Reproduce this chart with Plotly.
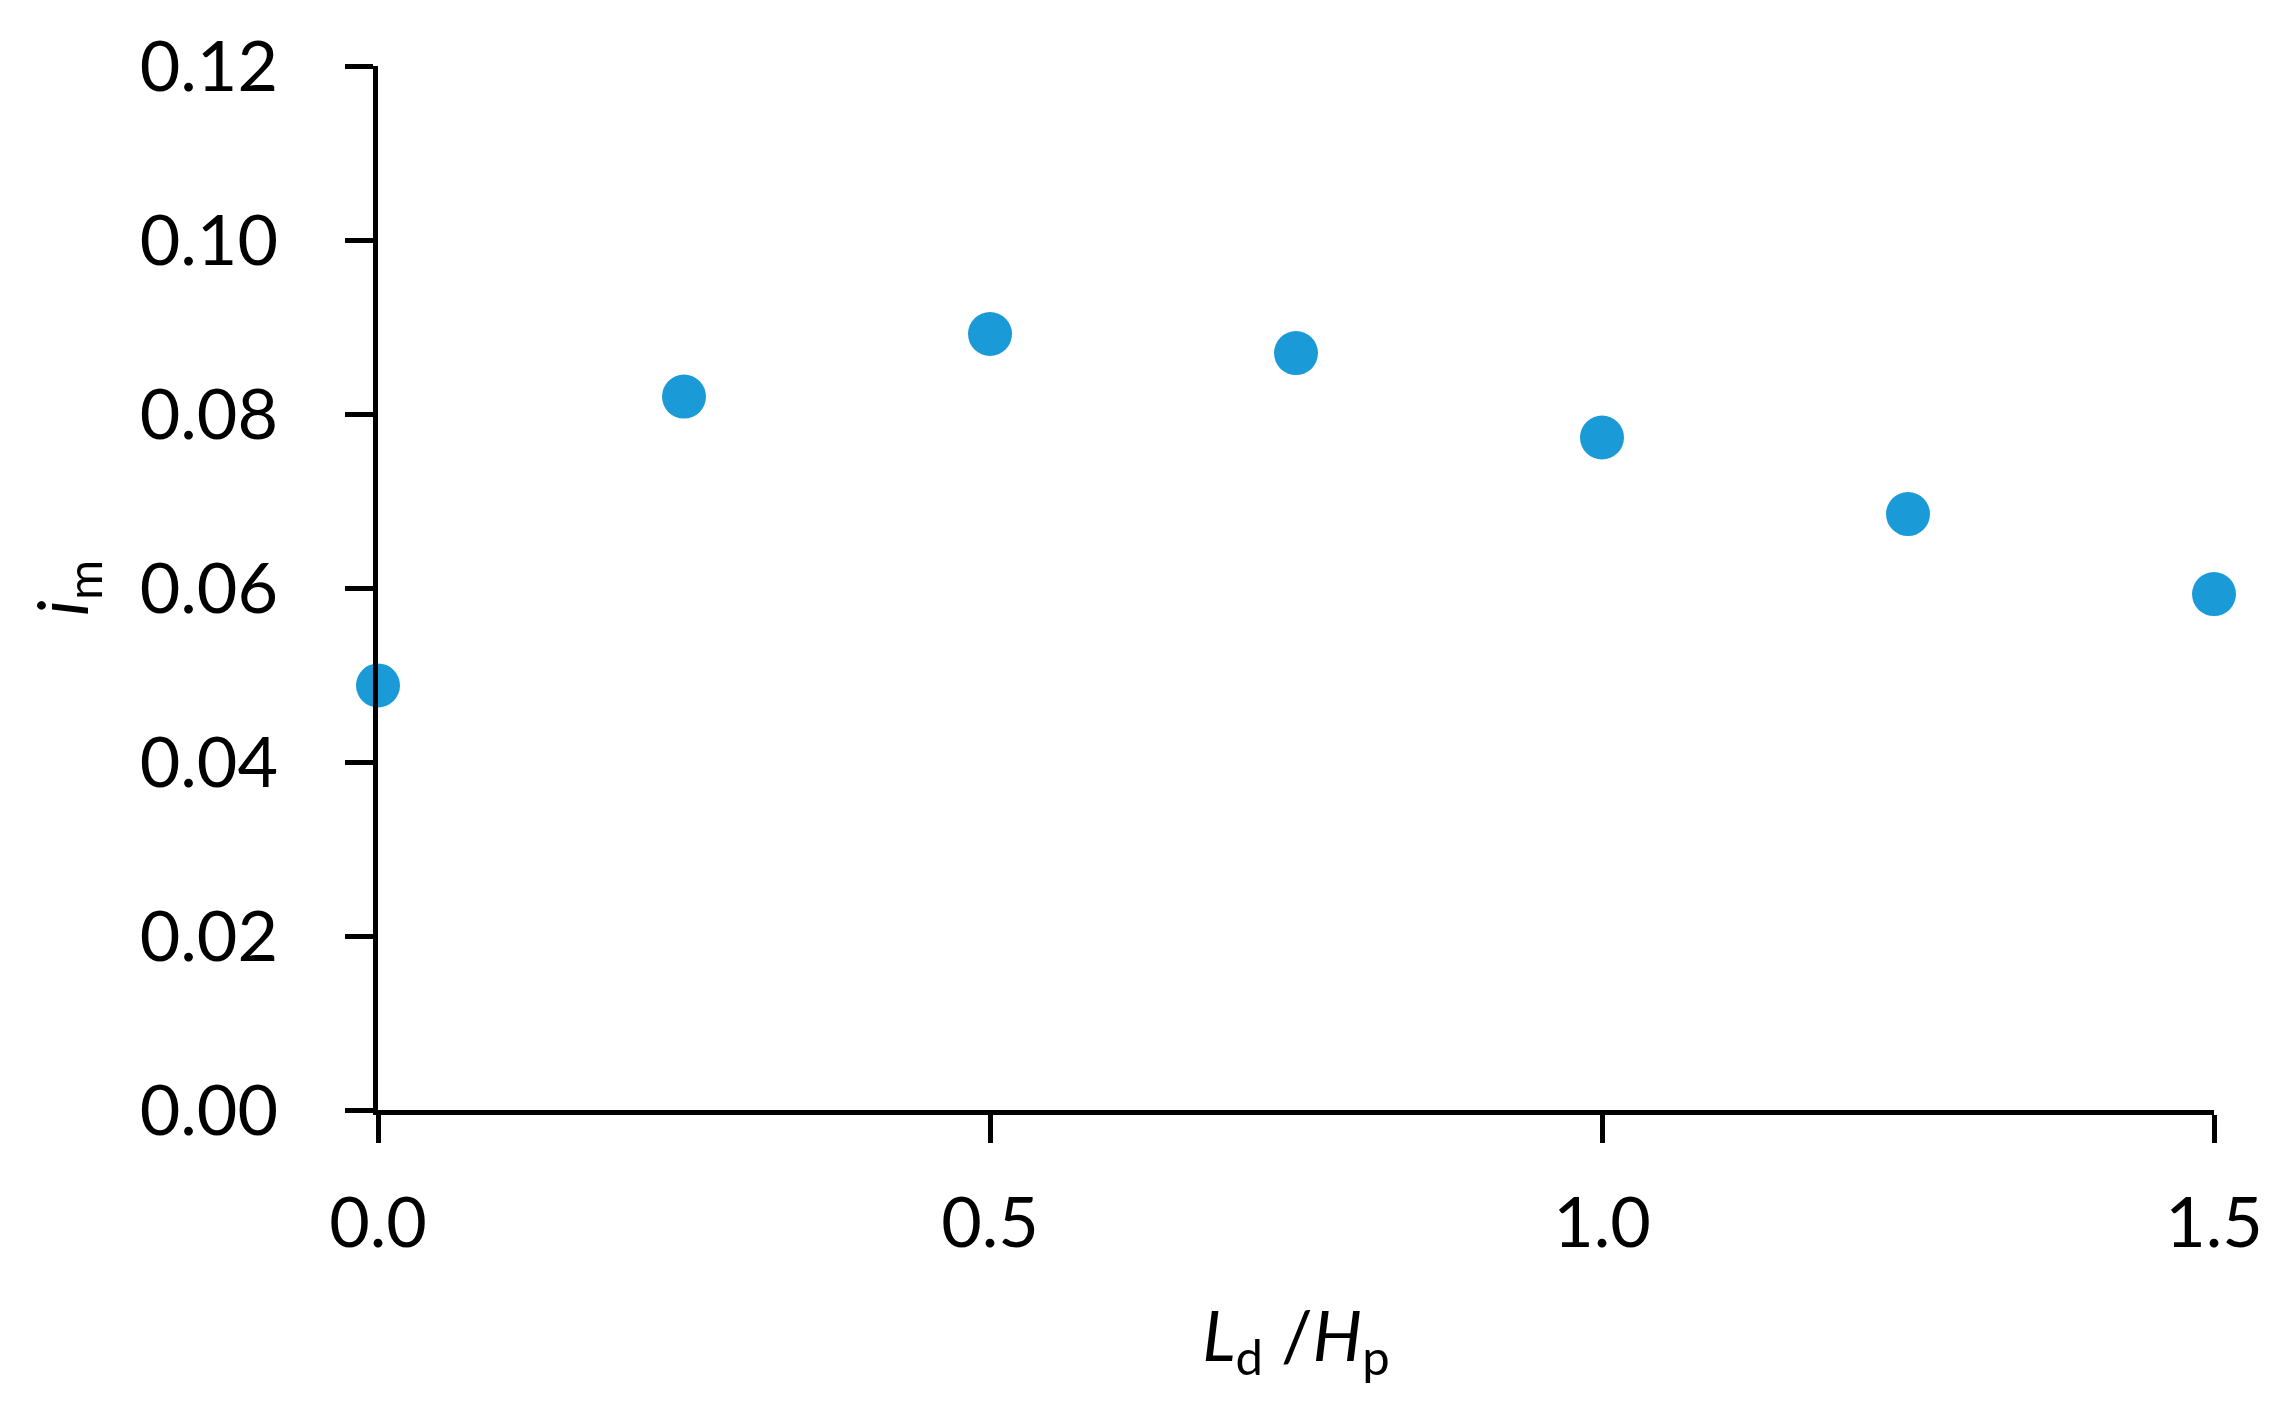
import plotly.graph_objects as go

# L_d / H_p ratio and measured i_m
ratio = [0.0, 0.25, 0.5, 0.75, 1.0, 1.25, 1.5]
i_m = [0.0488, 0.0820, 0.0892, 0.0870, 0.0773, 0.0685, 0.0593]

x_ticks = [0.0, 0.5, 1.0, 1.5]
x_tick_text = ["0.0", "0.5", "1.0", "1.5"]
y_ticks = [0.0, 0.02, 0.04, 0.06, 0.08, 0.10, 0.12]
y_tick_text = ["0.00", "0.02", "0.04", "0.06", "0.08", "0.10", "0.12"]

FONT = dict(family="Lato, sans-serif", color="#000000", size=70)
AXIS = dict(
    showline=True, linecolor="#000000", linewidth=5,
    ticks="outside", ticklen=28, tickwidth=5, tickcolor="#000000",
    showgrid=False, zeroline=False, tickfont=FONT,
)

fig = go.Figure()
fig.add_trace(go.Scatter(
    x=ratio, y=i_m, mode="markers",
    marker=dict(color="#1A9BD7", size=44),
    cliponaxis=False, showlegend=False,
))

fig.update_layout(
    width=2287, height=1419,
    paper_bgcolor="#ffffff", plot_bgcolor="#ffffff",
    font=FONT,
    margin=dict(l=370, r=81, t=58, b=317),
    xaxis=dict(
        **AXIS, range=[0, 1.5], tickvals=x_ticks, ticktext=x_tick_text,
        ticklabelstandoff=20,
        title=dict(text="<i>L</i><sub>d</sub> /<i>H</i><sub>p</sub>", font=FONT, standoff=52),
    ),
    yaxis=dict(
        **AXIS, range=[0, 0.12], tickvals=y_ticks, ticktext=y_tick_text,
        ticklabelstandoff=53,
        title=dict(text="<i>i</i><sub>m</sub>", font=FONT, standoff=30),
    ),
)

fig.write_html("out.html")
